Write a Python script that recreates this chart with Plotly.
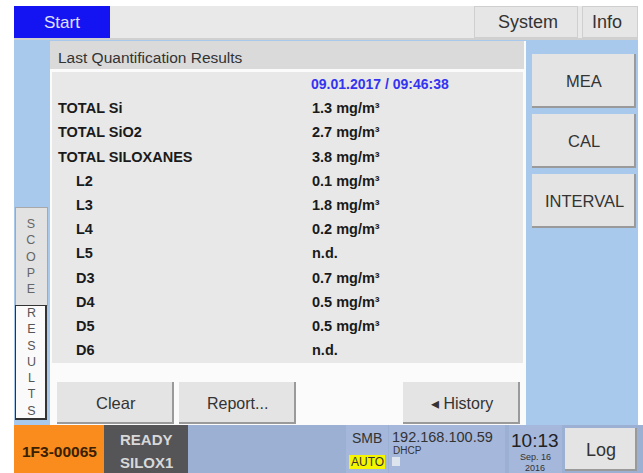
import plotly.graph_objects as go

# ---- data ----
components = ["TOTAL Si", "TOTAL SiO2", "TOTAL SILOXANES", "L2", "L3", "L4", "L5", "D3", "D4", "D5", "D6"]
indent = [False, False, False, True, True, True, True, True, True, True, True]
values = [1.3, 2.7, 3.8, 0.1, 1.8, 0.2, None, 0.7, 0.5, 0.5, None]
unit = "mg/m³"
timestamp = "09.01.2017 / 09:46:38"
panel_title = "Last Quantification Results"
top_tabs = ["System", "Info"]
side_buttons = ["MEA", "CAL", "INTERVAL"]
bottom_buttons = ["Clear", "Report...", "◂ History"]
device_id = "1F3-00065"
status = ["READY", "SILOX1"]
ip_address = "192.168.100.59"
clock = ["10:13", "Sep. 16", "2016"]

W, H = 643, 473
FONT = "Liberation Sans, Arial, sans-serif"

shapes = []
ann = []

def rect(x0, y0, x1, y1, fill, line=None, lw=0):
    shapes.append(dict(type="rect", xref="x", yref="y", x0=x0, y0=y0, x1=x1, y1=y1,
                       fillcolor=fill, line=dict(color=line or fill, width=lw), layer="below"))

def text(x, y, s, size=12, color="#222", anchor="center", bold=False, family=FONT):
    ann.append(dict(x=x, y=y, xref="x", yref="y", text=("<b>%s</b>" % s) if bold else s,
                    showarrow=False, xanchor=anchor, yanchor="middle",
                    font=dict(size=size, color=color, family=family)))

def button(x0, y0, x1, y1, label, size=13):
    rect(x0, y0, x1, y1, "#9a9a9a")
    rect(x0, y0, x1 - 2, y1 - 2, "#e4e4e4")
    text((x0 + x1) / 2, (y0 + y1) / 2, label, size=size, color="#333")

# background blue area
rect(14, 38, 638, 425, "#a9c9ec")
# top bar
rect(14, 6, 638, 39, "#e9e9e9")
rect(14, 38, 638, 40, "#d0d0d0")
rect(14, 6, 110, 38, "#1414f2")
text(42, 22, "Start", size=17, color="#e0e0ff", anchor="left")
rect(474, 6, 578, 38, "#cfcfcf")
rect(475, 7, 577, 37, "#e6e6e6")
rect(582, 6, 638, 38, "#cfcfcf")
rect(583, 7, 637, 37, "#e6e6e6")
text(528, 22, top_tabs[0], size=18, color="#333")
text(607, 22, top_tabs[1], size=18, color="#333")

# main panel
rect(50, 41, 526, 425, "#fbfbfb")
rect(50, 41, 524, 69, "#dadada")
text(56, 57, panel_title, size=15.5, color="#333", anchor="left")
rect(52, 72, 523, 363, "#e8e8e8")

# left tabs
rect(15, 207, 48, 306, "#a8a8a8")
rect(16, 208, 47, 305, "#e2e2e2")
text(31, 256, "<br>".join("SCOPE"), size=12.5, color="#666")
rect(15, 305, 47, 420, "#333333")
rect(16, 306, 45, 418, "#fafafa")
text(31, 362, "<br>".join("RESULTS"), size=12.5, color="#555")

# right side buttons
for i, lab in enumerate(side_buttons):
    y0 = 54 + i * 60
    button(532, y0, 636, y0 + 54, lab, size=16.5)

# bottom buttons
button(57, 382, 174, 424, bottom_buttons[0], 16.5)
button(179, 382, 296, 424, bottom_buttons[1], 16)
button(403, 382, 520, 424, bottom_buttons[2], 16)

# bottom status bar
rect(14, 425, 643, 473, "#9cb0d4")
rect(14, 425, 104, 473, "#f98c1c")
text(59, 451, device_id, size=15.5, color="#3a2000", bold=True)
rect(104, 425, 188, 473, "#555558")
text(146, 439, status[0], size=15, color="#d8d8d8", bold=True)
text(146, 462, status[1], size=15, color="#d8d8d8", bold=True)
rect(346, 425, 388, 473, "#a5b7da")
text(367, 438, "SMB", size=14, color="#333")
rect(349, 455, 385, 469, "#f5f500")
text(367, 462, "AUTO", size=12, color="#333")
rect(389, 425, 505, 473, "#a5b7da")
text(390, 437, ip_address, size=14.5, color="#333", anchor="left")
text(391, 450, "DHCP", size=10, color="#333", anchor="left")
rect(392, 457, 400, 466, "#dde4ee")
rect(509, 425, 562, 473, "#a5b7da")
text(535, 440, clock[0], size=19, color="#222")
text(535, 457, clock[1], size=9, color="#333")
text(535, 468, clock[2], size=9, color="#333")
button(565, 428, 637, 471, "Log", 18)

# results table via a text trace
row_y = [109.5 + 24.2 * i for i in range(len(components))]
label_x = [76 if ind else 58 for ind in indent]
value_text = ["<b>%.1f %s</b>" % (v, unit) if v is not None else "<b>n.d.</b>" for v in values]

fig = go.Figure()
fig.add_trace(go.Scatter(x=label_x, y=row_y, mode="text",
                         text=["<b>%s</b>" % c for c in components],
                         textposition="middle right",
                         textfont=dict(size=14.5, color="#1a1a1a", family=FONT),
                         hoverinfo="skip", showlegend=False))
fig.add_trace(go.Scatter(x=[312] * len(values), y=row_y, mode="text",
                         text=value_text, textposition="middle right",
                         textfont=dict(size=14.5, color="#1a1a1a", family=FONT),
                         hoverinfo="skip", showlegend=False))
fig.add_trace(go.Scatter(x=[311], y=[85], mode="text",
                         text=["<b>%s</b>" % timestamp], textposition="middle right",
                         textfont=dict(size=14, color="#3434f0", family=FONT),
                         hoverinfo="skip", showlegend=False))

fig.update_layout(
    width=W, height=H, margin=dict(l=0, r=0, t=0, b=0),
    paper_bgcolor="white", plot_bgcolor="white",
    xaxis=dict(range=[0, W], visible=False, fixedrange=True),
    yaxis=dict(range=[H, 0], visible=False, fixedrange=True),
    shapes=shapes, annotations=ann, showlegend=False,
)
fig.write_html("out.html", config={"displayModeBar": False},
               post_script="document.body.style.margin='0';document.body.style.overflow='hidden';")
